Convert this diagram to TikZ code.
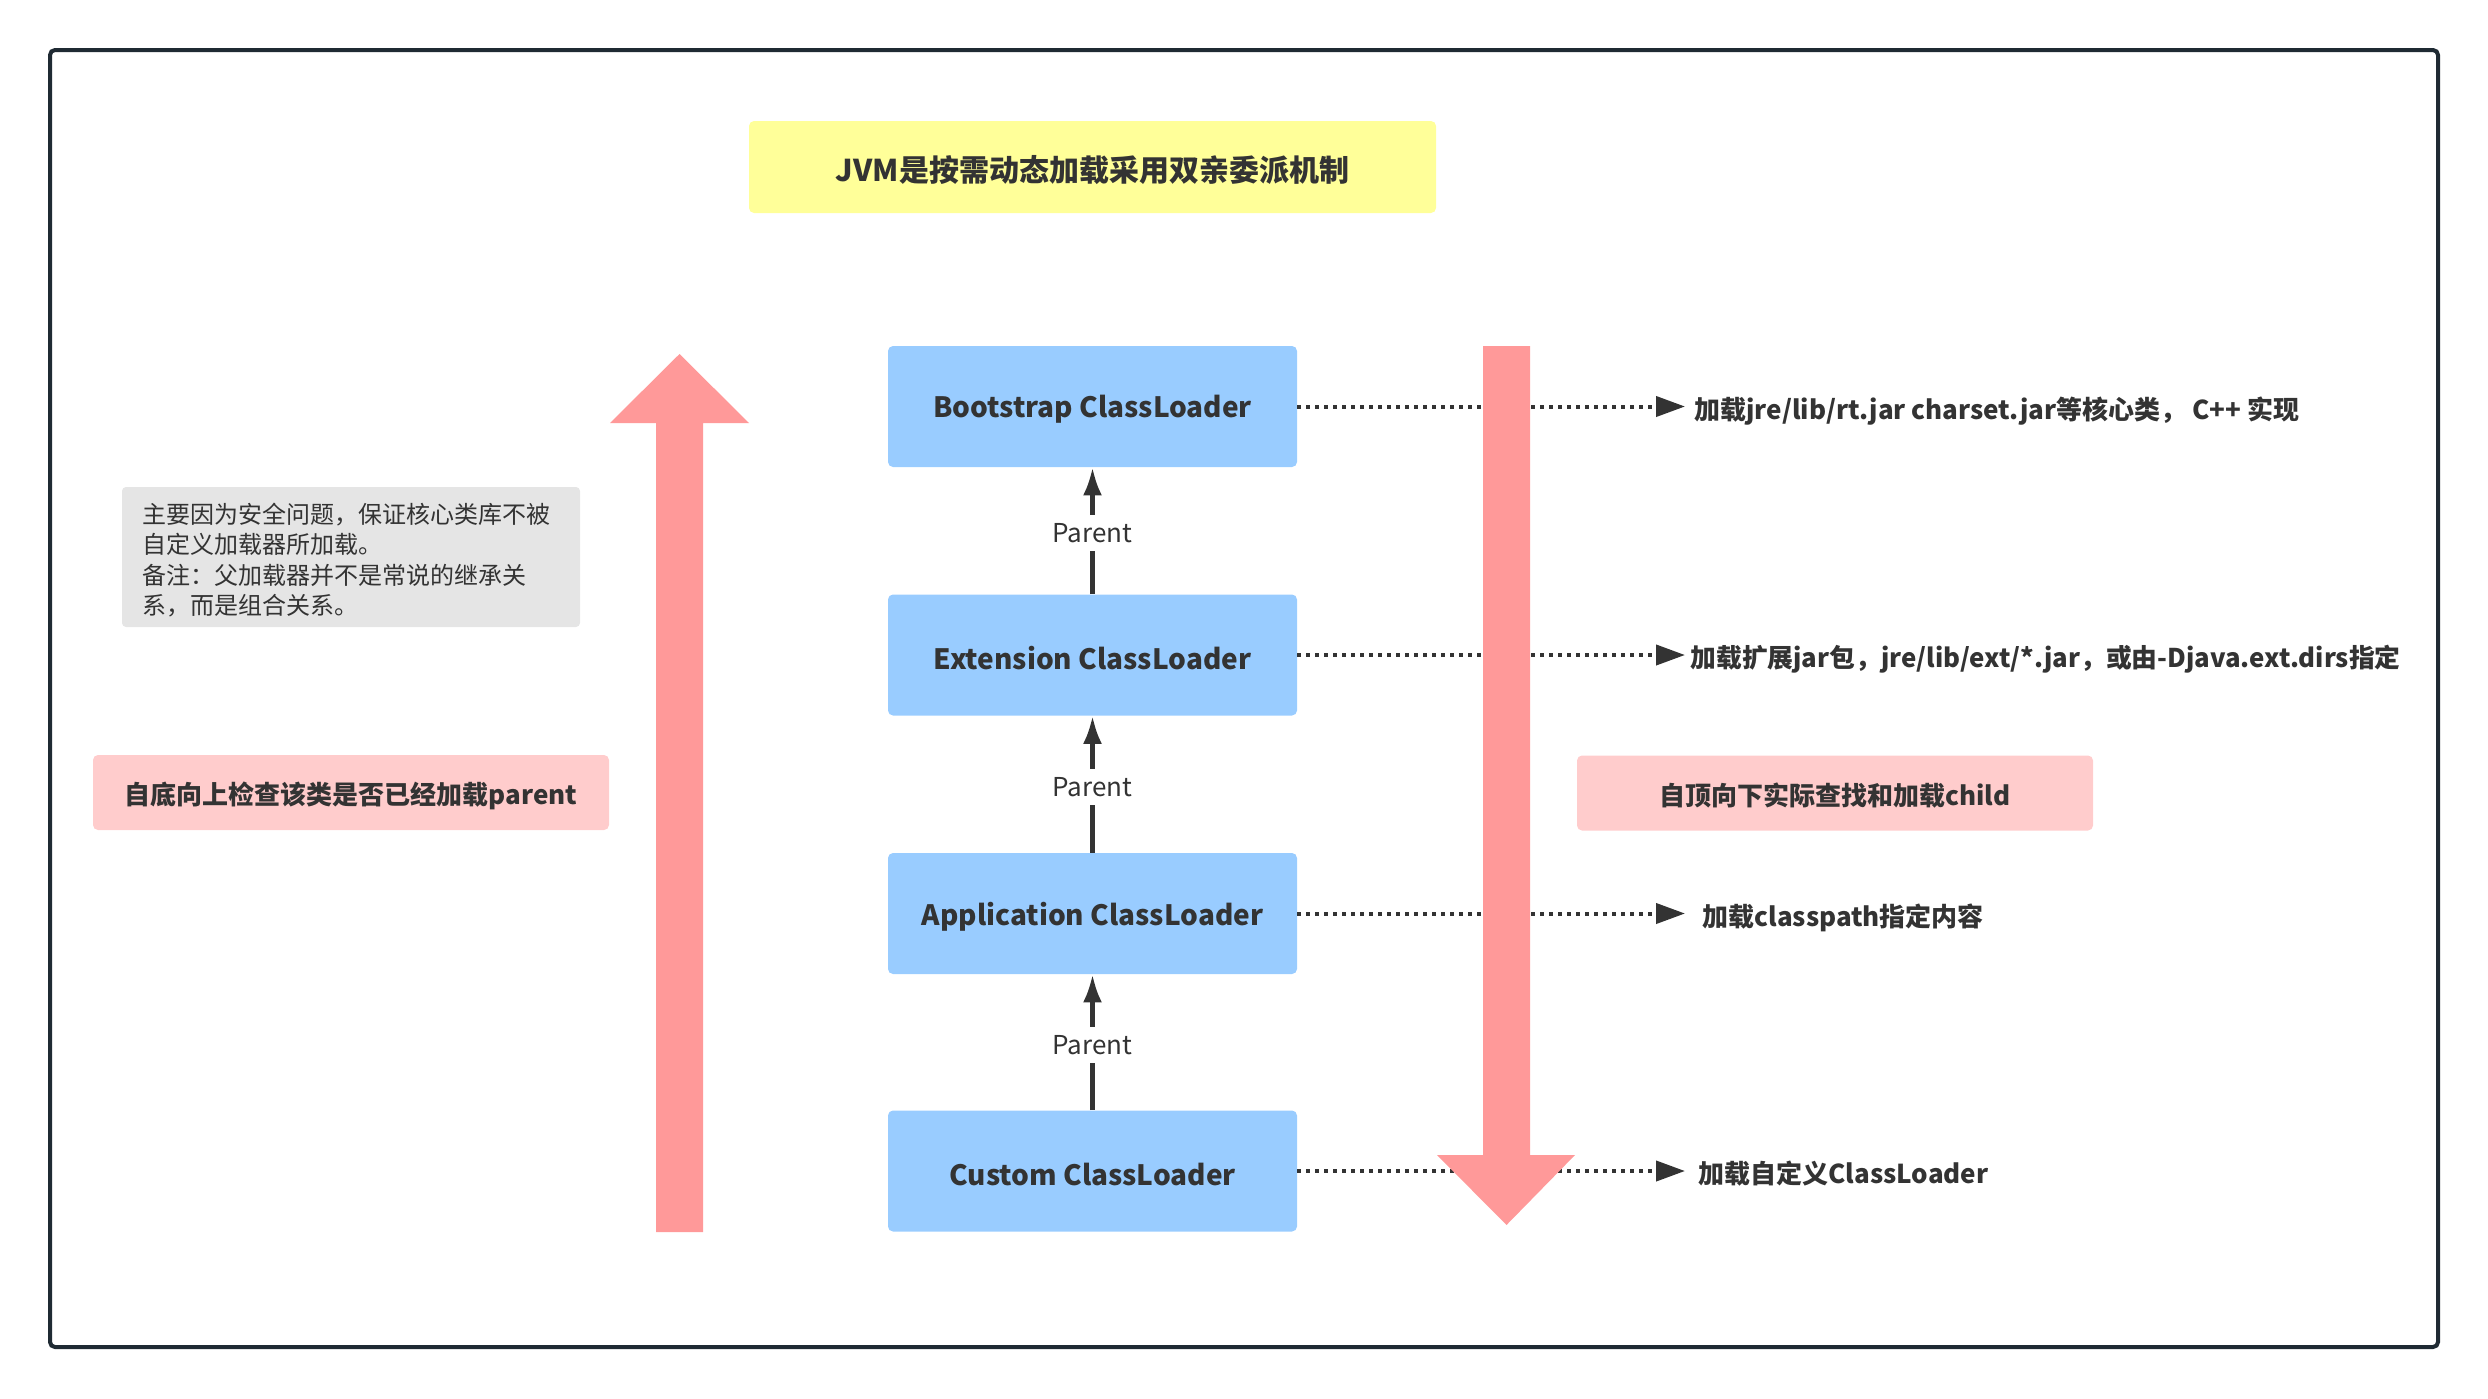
\documentclass[tikz,border=0pt]{standalone}
\usepackage{fontspec}
\setmainfont{Noto Sans CJK SC}
\usetikzlibrary{arrows.meta}
\definecolor{txt}{HTML}{333333}
\definecolor{framecol}{HTML}{1F2A33}
\definecolor{loaderblue}{HTML}{99CCFF}
\definecolor{titley}{HTML}{FFFF99}
\definecolor{pinkbox}{HTML}{FFCCCC}
\definecolor{redarrow}{HTML}{FF9999}
\definecolor{notegray}{HTML}{E5E5E5}
\newcommand\dn[1]{\raisebox{-1.5pt}[\height][\depth]{#1}}
\tikzset{
  loader/.style={fill=loaderblue, rounded corners=2.5pt, minimum width=204.5pt, minimum height=60.5pt, inner sep=0pt, text=txt, font=\bfseries\fontsize{14}{16}\selectfont},
  titlebox/.style={fill=titley, rounded corners=2.5pt, minimum width=343.5pt, minimum height=46pt, inner sep=0pt, text=txt, font=\bfseries\fontsize{15}{18}\selectfont},
  pinkb/.style={fill=pinkbox, rounded corners=2.5pt, minimum width=258pt, minimum height=37.5pt, inner sep=0pt, text=txt, font=\bfseries\fontsize{13}{16}\selectfont},
  notebox/.style={fill=notegray, rounded corners=2pt, inner xsep=10pt, inner ysep=0pt, minimum width=229pt, minimum height=70pt, text=txt, font=\fontsize{12}{15.1}\selectfont},
  rlabel/.style={anchor=west, inner sep=0pt, text=txt, font=\bfseries\fontsize{13}{16}\selectfont},
  parentarrow/.style={draw=txt, line width=2.2pt, -{Latex[length=14pt,width=9.5pt]}},
  parentlbl/.style={fill=white, inner xsep=2pt, inner ysep=4.25pt, yshift=-1.25pt, text=txt, font=\fontsize{13}{15}\selectfont},
  dotcon/.style={draw=txt, line width=2pt, dash pattern=on 2pt off 2.5pt, -{Triangle[length=14.5pt,width=10pt]}},
  bigarrow/.style={fill=redarrow},
}
\begin{document}
\begin{tikzpicture}[x=0.5pt,y=-0.5pt]
\useasboundingbox (0,0) rectangle (2488,1398);
% outer frame
\draw[framecol, line width=2pt, rounded corners=2.5pt] (50,50) rectangle (2438,1347);

% title
\node[titlebox] (ttl) at (1092.5,167) {\dn{JVM是按需动态加载采用双亲委派机制}};

% loaders
\node[loader] (bs)  at (1092.5,406.5) {\dn{Bootstrap ClassLoader}};
\node[loader] (ext) at (1092.5,655) {\dn{Extension ClassLoader}};
\node[loader] (app) at (1092.5,913.5) {\dn{Application ClassLoader}};
\node[loader] (cus) at (1092.5,1171) {\dn{Custom ClassLoader}};

% parent arrows
\draw[parentarrow] (ext.north) -- node[parentlbl] (p1) {Parent} (bs.south);
\draw[parentarrow] (app.north) -- node[parentlbl] (p2) {Parent} (ext.south);
\draw[parentarrow] (cus.north) -- node[parentlbl] (p3) {Parent} (app.south);

% tips of dotted connectors
\coordinate (bsT)  at (1685,406.5);
\coordinate (extT) at (1685,655);
\coordinate (appT) at (1685,913.5);
\coordinate (cusT) at (1685,1171);

\draw[dotcon] (bs.east) -- (bsT);
\draw[dotcon] (ext.east) -- (extT);
\draw[dotcon] (app.east) -- (appT);
\draw[dotcon] (cus.east) -- (cusT);

% right labels
\node[rlabel] (bsl)  at (1694,411) {加载jre/lib/rt.jar charset.jar等核心类， C++ 实现};
\node[rlabel, font=\bfseries\fontsize{12.9}{16}\selectfont] (extl) at (1690,659) {加载扩展jar包，jre/lib/ext/*.jar，或由-Djava.ext.dirs指定};
\node[rlabel] (appl) at (1702,918) {加载classpath指定内容};
\node[rlabel] (cusl) at (1698,1174) {加载自定义ClassLoader};

% big red arrows
\fill[bigarrow] (656,1232) -- (656,423) -- (610,423) -- (679.5,354) -- (749,423) -- (703,423) -- (703,1232) -- cycle;
\fill[bigarrow] (1483,346) -- (1530,346) -- (1530,1155) -- (1575,1155) -- (1506.5,1225) -- (1437,1155) -- (1483,1155) -- cycle;

% pink boxes
\node[pinkb] (up)   at (351,792.5) {\dn{自底向上检查该类是否已经加载parent}};
\node[pinkb] (down) at (1835,793) {\dn{自顶向下实际查找和加载child}};

% note
\node[notebox] (note) at (351,557) {\dn{\parbox{209pt}{主要因为安全问题，保证核心类库不被\\自定义加载器所加载。\\备注：父加载器并不是常说的继承关\\系，而是组合关系。}}};
\end{tikzpicture}
\end{document}
